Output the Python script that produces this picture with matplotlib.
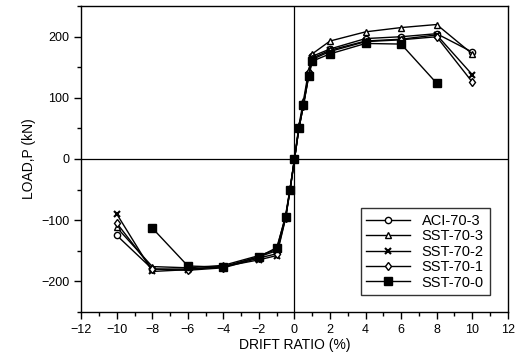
import numpy as np
import matplotlib.pyplot as plt

plt.rcParams['font.family'] = ['Liberation Sans', 'DejaVu Sans']

# drift ratio (%) and load (kN) for each specimen
x_full = [-10, -8, -6, -4, -2, -1, -0.5, -0.25, 0, 0.25, 0.5, 0.8, 1, 2, 4, 6, 8, 10]
aci_70_3 = [-125, -180, -180, -176, -160, -150, -95, -50, 0, 52, 90, 140, 168, 180, 197, 200, 205, 175]
sst_70_3 = [-112, -176, -178, -174, -158, -148, -92, -48, 0, 55, 95, 145, 172, 193, 208, 215, 220, 172]
sst_70_2 = [-90, -184, -181, -176, -165, -158, -97, -52, 0, 50, 88, 138, 165, 178, 193, 196, 203, 138]
sst_70_1 = [-105, -180, -182, -178, -162, -155, -96, -50, 0, 50, 87, 136, 163, 176, 192, 195, 200, 126]
x_sst0 = [-8, -6, -4, -2, -1, -0.5, -0.25, 0, 0.25, 0.5, 0.8, 1, 2, 4, 6, 8]
sst_70_0 = [-113, -175, -177, -160, -145, -95, -50, 0, 50, 88, 135, 160, 172, 189, 188, 124]

labels = ['ACI-70-3', 'SST-70-3', 'SST-70-2', 'SST-70-1', 'SST-70-0']

fig = plt.figure(figsize=(5.24, 3.63), dpi=100)
ax = fig.add_axes([0.155, 0.141, 0.814, 0.842])

ax.axhline(0, color='black', lw=0.9)
ax.axvline(0, color='black', lw=0.9)

ax.plot(x_full, aci_70_3, '-o', color='black', mfc='white', ms=4.5, lw=1, label=labels[0])
ax.plot(x_full, sst_70_3, '-^', color='black', mfc='white', ms=4.5, lw=1, label=labels[1])
ax.plot(x_full, sst_70_2, '-x', color='black', ms=4.5, mew=1.5, lw=1, label=labels[2])
ax.plot(x_full, sst_70_1, '-d', color='black', mfc='white', ms=4.5, lw=1, label=labels[3])
ax.plot(x_sst0, sst_70_0, '-s', color='black', ms=5.5, lw=1, label=labels[4])

ax.set_xlim(-12, 12)
ax.set_ylim(-250, 250)
ax.set_xticks(range(-12, 13, 2))
ax.set_xticks(range(-11, 12, 2), minor=True)
ax.set_yticks([-200, -100, 0, 100, 200])
ax.set_yticks([-250, -150, -50, 50, 150, 250], minor=True)
ax.tick_params(which='major', length=5, width=1, labelsize=9, direction='out')
ax.tick_params(which='minor', length=3, width=1, direction='out')
for s in ax.spines.values():
    s.set_linewidth(1)

ax.set_xlabel('DRIFT RATIO (%)', fontsize=10, labelpad=2)
ax.set_ylabel('LOAD,P (kN)', fontsize=10, labelpad=4)

leg = ax.legend(loc='lower right', bbox_to_anchor=(0.975, 0.03), fontsize=10.5,
                frameon=True, fancybox=False, edgecolor='black',
                handlelength=3.0, borderpad=0.4, labelspacing=0.1)
leg.get_frame().set_linewidth(1)

fig.savefig('out.png', dpi=100)
